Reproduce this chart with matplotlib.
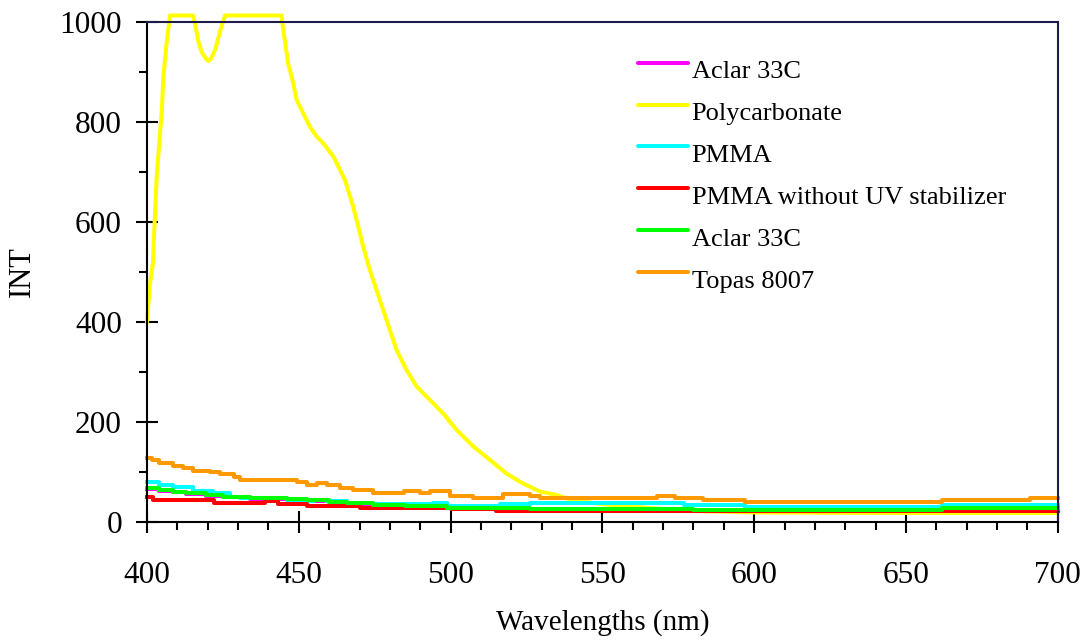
import matplotlib
matplotlib.use('Agg')
import matplotlib.pyplot as plt
from matplotlib.ticker import MultipleLocator

plt.rcParams['font.family'] = ['Liberation Serif', 'DejaVu Serif']

# spektru duomenys (bangos ilgis nm, intensyvumas)
aclar_a_wl = [400, 404, 408.7, 413, 419.6, 425, 434, 446, 452.6, 460, 466, 474.6, 485, 498.7, 510, 526, 580, 662, 700]
aclar_a_int = [66, 62, 59, 56, 52, 49, 46, 44, 42, 39, 36, 33, 30, 27, 26, 24, 23, 26, 26]

poly_wl = [400, 400.5, 401, 402, 402.2, 403.2, 404.3, 404.9, 405.4, 406.5, 407.6,
           415.2, 416, 417, 418, 419.5, 420.2, 421, 422.5, 424, 425, 425.7,
           444.3, 444.9, 446.5, 448.2, 449.3, 451.5, 453.7, 455.9, 458.1, 461.4,
           463.6, 465.2, 467.9, 469.6, 471.2, 473.4, 475.6, 477.8, 480, 482.2,
           485.5, 488.8, 493.2, 497.6, 502, 507.5, 513, 518.4, 523.9, 529.4,
           534.9, 539.3, 545, 548, 555, 565, 580, 600, 650, 700]
poly_int = [401, 440, 477, 520, 557, 691, 777, 824, 891, 960, 1013,
            1013, 990, 960, 940, 926, 922, 926, 945, 980, 1000, 1013,
            1013, 984, 917, 877, 844, 817, 790, 771, 757, 731,
            704, 684, 631, 591, 551, 504, 464, 424, 384, 344,
            304, 271, 244, 217, 184, 151, 124, 97, 77, 61,
            54, 45, 40, 37, 33, 28, 22, 19, 18, 18]

pmma_wl = [400, 404, 408.7, 415.3, 421.9, 427.4, 430.7, 446, 452.6, 455, 459, 465.8, 474.6, 491, 494.3, 498.7, 513, 516.2, 526, 577, 597, 662, 700]
pmma_int = [80, 73, 69, 62, 57, 50, 47, 44, 42, 44, 42, 37, 36, 36, 37, 31, 31, 35, 37, 34, 30, 34, 34]

pmma_nouv_wl = [400, 402, 422, 439, 443, 452.6, 470, 500, 515, 526, 700]
pmma_nouv_int = [49, 44, 38, 42, 36, 32, 28, 25, 22, 21, 21]

aclar_b_wl = [400, 404, 408.7, 413, 419.6, 425, 434, 446, 452.6, 460, 466, 474.6, 485, 498.7, 510, 526, 580, 662, 700]
aclar_b_int = [67, 63, 60, 57, 53, 50, 47, 45, 43, 40, 37, 34, 31, 28, 27, 25, 24, 27, 27]

topas_wl = [400, 401.5, 404, 408.7, 412, 415.3, 420.8, 424.1, 428.5, 430.7, 446, 449.3, 452.6, 455.9,
            459.2, 463.6, 468, 474.6, 481.2, 484.5, 490, 493.2, 497.6, 499.8, 507.5, 515.2,
            517.3, 522.8, 526.1, 529.4, 568, 574, 583, 597, 662, 691, 700]
topas_int = [127, 123, 118, 112, 107, 101, 100, 95, 89, 84, 84, 79, 73, 77,
             73, 68, 64, 57, 57, 61, 57, 61, 61, 52, 48, 48,
             55, 55, 51, 47, 52, 47, 43, 39, 43, 47, 47]

# (x, y, spalva, pavadinimas, laiptai)
series = [
    (aclar_a_wl, aclar_a_int, '#ff00ff', 'Aclar 33C', True),
    (poly_wl, poly_int, '#ffff00', 'Polycarbonate', False),
    (pmma_wl, pmma_int, '#00ffff', 'PMMA', True),
    (pmma_nouv_wl, pmma_nouv_int, '#ff0000', 'PMMA without UV stabilizer', True),
    (aclar_b_wl, aclar_b_int, '#00ff00', 'Aclar 33C', True),
    (topas_wl, topas_int, '#ff9900', 'Topas 8007', True),
]

fig = plt.figure(figsize=(10.84, 6.43), dpi=100)
ax = fig.add_axes([0.1356, 0.1882, 0.8402, 0.7776])

for wl, val, col, lab, step in series:
    ax.plot(wl, val, color=col, lw=2.9, clip_on=False,
            drawstyle='steps-post' if step else 'default')

ax.set_xlim(400, 700)
ax.set_ylim(0, 1000)
ax.xaxis.set_major_locator(MultipleLocator(50))
ax.xaxis.set_minor_locator(MultipleLocator(10))
ax.yaxis.set_major_locator(MultipleLocator(200))
ax.yaxis.set_minor_locator(MultipleLocator(100))
ax.tick_params(which='major', direction='inout', length=16, width=1.5, labelsize=22.5, pad=10)
ax.tick_params(axis='x', which='major', pad=20)
ax.tick_params(which='minor', direction='out', length=6, width=1.5)

for s in ['left', 'bottom']:
    ax.spines[s].set_linewidth(1.5)
for s in ['top', 'right']:
    ax.spines[s].set_linewidth(1.5)
    ax.spines[s].set_color('#1c1c4c')

ax.set_xlabel('Wavelengths (nm)', fontsize=21, labelpad=14)
ax.set_ylabel('INT', fontsize=22, labelpad=16)

# legenda: linija ties teksto virsumi
for i, (wl, val, col, lab, step) in enumerate(series):
    y = 0.9186 - i * 0.0838
    ax.plot([0.539, 0.594], [y, y], color=col, lw=2.9, transform=ax.transAxes, clip_on=False,
            solid_capstyle='round')
    ax.text(0.598, y - 0.031, lab, fontsize=19, va='baseline', ha='left', transform=ax.transAxes)

plt.savefig('out.png', dpi=100)
